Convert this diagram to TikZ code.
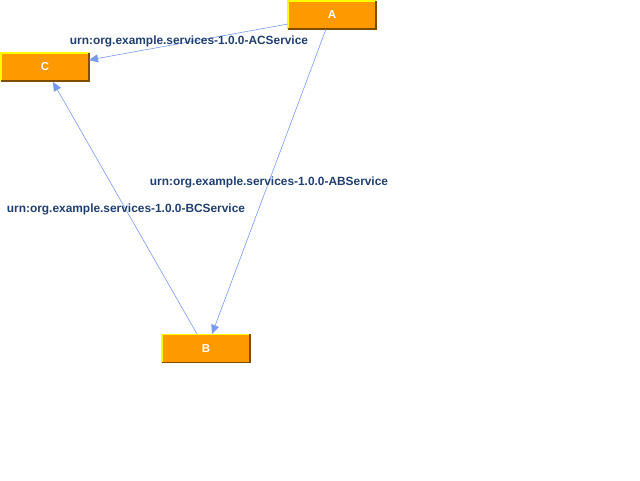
\documentclass[tikz,border=0pt]{standalone}
\usepackage{fontspec}
\setmainfont{Liberation Sans}
\usetikzlibrary{arrows.meta}
\definecolor{boxfill}{HTML}{FF9900}
\definecolor{boxlight}{HTML}{FFFF00}
\definecolor{boxdark}{HTML}{7F4C00}
\definecolor{edgecol}{HTML}{7799EE}
\definecolor{labcol}{HTML}{1F3F6F}
\tikzset{
  vbox/.style={fill=boxfill, minimum width=88pt, minimum height=28pt, inner sep=0pt,
    text=white, font=\fontsize{11.5}{13}\selectfont\bfseries},
  conn/.style={draw=edgecol, line width=0.6pt, -{Triangle[length=9pt,width=8pt]}},
  lab/.style={text=labcol, font=\fontsize{11.9}{13}\selectfont\bfseries, inner sep=0pt}
}
\newcommand{\bevel}[1]{%
  \draw[boxlight, line width=1.5pt] (#1.south west) -- (#1.north west) -- (#1.north east);
  \draw[boxdark, line width=1.5pt] (#1.north east) -- (#1.south east) -- (#1.south west);
}
\begin{document}
\begin{tikzpicture}[x=1pt,y=-1pt]
\useasboundingbox (0,0) rectangle (640,480);
\node[vbox] (A) at (332,15) {A};
\node[vbox] (C) at (45,67) {C};
\node[vbox] (B) at (206,348.5) {B};
\bevel{A}\bevel{C}\bevel{B}
\coordinate (a1) at (288,24);
\coordinate (c1) at (89,60);
\coordinate (a2) at (326,29);
\coordinate (b1) at (212,334);
\coordinate (b2) at (197,334);
\coordinate (c2) at (53,82);
\draw[conn] (a1) -- (c1);
\draw[conn] (a2) -- (b1);
\draw[conn] (b2) -- (c2);
\node[lab] (lac) at (189,41) {urn:org.example.services-1.0.0-ACService};
\node[lab] (lab) at (269,182.5) {urn:org.example.services-1.0.0-ABService};
\node[lab] (lbc) at (126,209.5) {urn:org.example.services-1.0.0-BCService};
\end{tikzpicture}
\end{document}
